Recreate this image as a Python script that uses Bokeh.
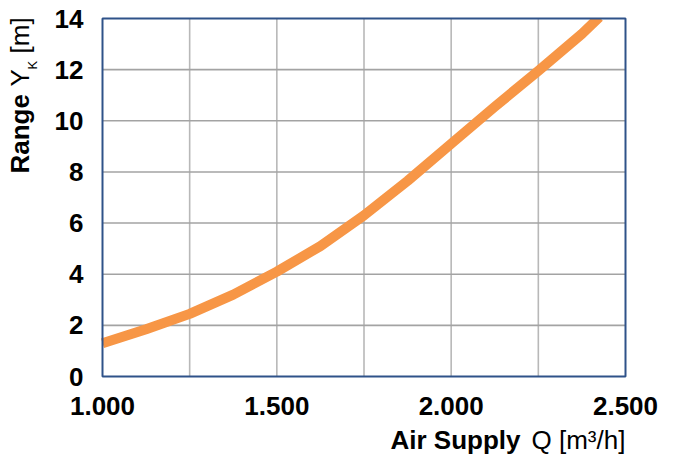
import math
from bokeh.plotting import figure
from bokeh.models import FixedTicker, Label, Range1d
from bokeh.embed import file_html
from bokeh.resources import INLINE

# data
air_supply = [1000, 1125, 1250, 1375, 1500, 1625, 1750, 1875, 2000, 2125, 2250, 2375, 2425]
range_yk = [1.3, 1.85, 2.45, 3.2, 4.1, 5.1, 6.3, 7.65, 9.1, 10.55, 11.95, 13.4, 14.05]

x_ticks = [1000, 1500, 2000, 2500]
x_tick_labels = ["1.000", "1.500", "2.000", "2.500"]
x_grid = [1250, 1500, 1750, 2000, 2250]
y_ticks = [0, 2, 4, 6, 8, 10, 12, 14]
y_grid = [2, 4, 6, 8, 10, 12]
x_min, x_max = 1000, 2500
y_min, y_max = 0, 14

# layout (pixels): the frame covers the whole canvas, data area placed inside it
W, H = 678, 457
L, R, T, B = 102, 625, 18, 376
FONT = "Liberation Sans"

xs = (x_max - x_min) / (R - L)
ys = (y_max - y_min) / (B - T)
x_range = Range1d(x_min - L * xs, x_max + (W - R) * xs)
y_range = Range1d(y_min - (H - B) * ys, y_max + T * ys)

p = figure(width=W, height=H, output_backend="svg", toolbar_location=None,
           x_range=x_range, y_range=y_range)
p.min_border = 0
p.min_border_left = 0
p.min_border_right = 0
p.min_border_top = 0
p.min_border_bottom = 0
p.outline_line_color = None
p.background_fill_color = "white"
p.border_fill_color = "white"
p.xgrid.visible = False
p.ygrid.visible = False

# axes pinned to the data area edges
p.xaxis.fixed_location = y_min
p.yaxis.fixed_location = x_min
p.xaxis.ticker = FixedTicker(ticks=x_ticks)
p.xaxis.major_label_overrides = dict(zip(x_ticks, x_tick_labels))
p.yaxis.ticker = FixedTicker(ticks=y_ticks)
for ax in (p.xaxis, p.yaxis):
    ax.axis_line_color = None
    ax.major_tick_line_color = None
    ax.minor_tick_line_color = None
    ax.major_tick_in = 0
    ax.major_tick_out = 0
    ax.minor_tick_in = 0
    ax.minor_tick_out = 0
    ax.major_label_text_font = FONT
    ax.major_label_text_font_style = "bold"
    ax.major_label_text_font_size = "26px"
    ax.major_label_text_color = "black"
p.xaxis.major_label_standoff = 20
p.yaxis.major_label_standoff = 19

# grid lines
p.segment(x0=x_grid, y0=[y_min] * len(x_grid), x1=x_grid, y1=[y_max] * len(x_grid),
          line_color="#B8B8B8", line_width=1.6)
p.segment(x0=[x_min] * len(y_grid), y0=y_grid, x1=[x_max] * len(y_grid), y1=y_grid,
          line_color="#A3A3A3", line_width=1.6)

# data curve
p.line(air_supply, range_yk, line_color="#F79646", line_width=10, line_join="round")

# mask above the data area (the original clips the curve at the top edge)
p.quad(left=[x_min], right=[x_max + (W - R) * xs], bottom=[y_max], top=[y_max + T * ys],
       fill_color="white", line_color=None)

# data-area border
p.quad(left=[x_min], right=[x_max], bottom=[y_min], top=[y_max],
       fill_color=None, line_color="#2F5289", line_width=2)

def lab(text, px, py, size, bold=False, angle=0.0):
    p.add_layout(Label(x=px, y=H - py, x_units="screen", y_units="screen", text=text,
                       text_font=FONT, text_font_size=size,
                       text_font_style="bold" if bold else "normal",
                       text_color="black", text_baseline="alphabetic",
                       text_align="left", angle=angle))

# x title
lab("Air Supply", 390, 439, "26px", bold=True)
lab("Q [m³/h]", 531, 439, "26px")
# y title, rotated
a = math.pi / 2
lab("Range", 19, 173, "26px", bold=True, angle=a)
lab("Y", 19, 86, "26px", angle=a)
lab("K", 32, 69, "13px", angle=a)
lab("[m]", 19, 53, "26px", angle=a)

open("out.html", "w").write(file_html(p, INLINE))
